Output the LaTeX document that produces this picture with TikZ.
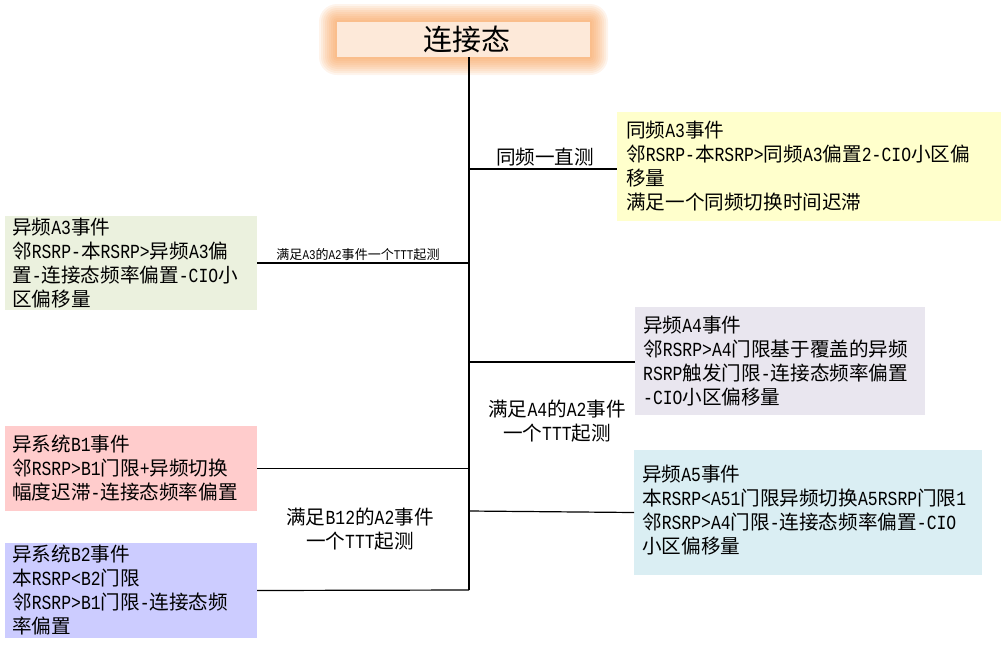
\documentclass[tikz,border=0pt]{standalone}
\usepackage{fontspec}
\setmainfont{Liberation Mono}[FakeStretch=0.82]
\newfontfamily\cjk[Scale=0.98]{Noto Sans CJK SC}
\newXeTeXintercharclass\cjkcls
\count255="4E00
\loop
  \XeTeXcharclass\count255=\cjkcls
  \ifnum\count255<"9FFF \advance\count255 by 1 \repeat
\XeTeXinterchartokenstate=1
\XeTeXinterchartoks 0 \cjkcls = {\cjk}
\XeTeXinterchartoks 4095 \cjkcls = {\cjk}
\XeTeXinterchartoks \cjkcls 0 = {\rmfamily}
\XeTeXinterchartoks \cjkcls 4095 = {\rmfamily}
\definecolor{yelc}{HTML}{FFFFCC}
\definecolor{grnc}{HTML}{EBF1DE}
\definecolor{lavc}{HTML}{E9E6EF}
\definecolor{pnkc}{HTML}{FFCCCC}
\definecolor{bluc}{HTML}{DAEEF3}
\definecolor{perc}{HTML}{CCCCFF}
\definecolor{titlec}{HTML}{FDE9D9}
\definecolor{glowc}{RGB}{247,150,70}
\newcommand\fstrut{\rule{0pt}{18pt}}
\begin{document}
\begin{tikzpicture}[x=1pt,y=-1pt,
  box/.style={rectangle, inner sep=0pt, outer sep=0pt, draw=none},
  txt/.style={anchor=north west, inner sep=0pt, align=left, font=\fontsize{20}{24}\selectfont},
  lbl/.style={inner sep=0pt, align=center, font=\fontsize{20}{24}\selectfont},
  link/.style={draw=black, line width=1.2pt},
  trunk/.style={draw=black, line width=1.5pt}]
\useasboundingbox (0,0) rectangle (1001,646);
% glow of the title
\foreach \i in {2,4,...,18}
  \fill[glowc, opacity=0.1, rounded corners=\i pt] (337-\i,22-\i) rectangle (590+\i,57+\i);
\node[box, fill=titlec, minimum width=253pt, minimum height=35pt,
      font=\fontsize{29.6}{34}\selectfont, text height=24pt, text depth=3pt] (T) at (463.5,39.5) {\hspace*{7pt}连接态};
% boxes
\node[box, fill=yelc, minimum width=384pt, minimum height=109pt] (yel) at (809,166.5) {};
\node[box, fill=grnc, minimum width=252pt, minimum height=94pt] (grn) at (131,263) {};
\node[box, fill=lavc, minimum width=290pt, minimum height=108pt] (lav) at (780,361) {};
\node[box, fill=pnkc, minimum width=252pt, minimum height=85pt] (pnk) at (131,468.5) {};
\node[box, fill=bluc, minimum width=348pt, minimum height=125pt] (blu) at (808,512.5) {};
\node[box, fill=perc, minimum width=252pt, minimum height=95pt] (per) at (131,590.5) {};
% texts
\node[txt] (yelT) at (626,119.3) {\fstrut 同频A3事件\\邻RSRP-本RSRP>同频A3偏置2-CIO小区偏\\移量\\满足一个同频切换时间迟滞};
\node[txt] (grnT) at (12,216) {\fstrut 异频A3事件\\邻RSRP-本RSRP>异频A3偏\\置-连接态频率偏置-CIO小\\区偏移量};
\node[txt] (lavT) at (643,314.3) {\fstrut 异频A4事件\\邻RSRP>A4门限基于覆盖的异频\\RSRP触发门限-连接态频率偏置\\-CIO小区偏移量};
\node[txt] (pnkT) at (12,433.3) {\fstrut 异系统B1事件\\邻RSRP>B1门限+异频切换\\幅度迟滞-连接态频率偏置};
\node[txt] (bluT) at (642,463.3) {\fstrut 异频A5事件\\本RSRP<A51门限异频切换A5RSRP门限1\\邻RSRP>A4门限-连接态频率偏置-CIO\\小区偏移量};
\node[txt] (perT) at (12,543.3) {\fstrut 异系统B2事件\\本RSRP<B2门限\\邻RSRP>B1门限-连接态频\\率偏置};
% trunk and branches
\coordinate (bot) at (469,590);
\coordinate (j1) at (469,169);
\coordinate (j2) at (469,263);
\coordinate (j3) at (469,362);
\coordinate (j4) at (469,468.5);
\coordinate (j5) at (469,511);
\draw[trunk] (T.south -| bot) -- (bot);
\draw[link] (j1) -- (j1 -| yel.west);
\draw[link] (j2) -- (grn.east);
\draw[link] (j3) -- (j3 -| lav.west);
\draw[link] (j4) -- (pnk.east);
\draw[link] (j5) -- (blu.west);
\draw[link] (bot) -- (per.east);
% labels
\node[lbl, anchor=base] (l1) at (545,164.4) {同频一直测};
\node[lbl, anchor=base, font=\fontsize{13.3}{16}\selectfont] (l2) at (358,259) {满足A3的A2事件一个TTT起测};
\node[lbl, anchor=north] (l3) at (557,398.3) {\fstrut 满足A4的A2事件\\一个TTT起测};
\node[lbl, anchor=north] (l4) at (360,506.3) {\fstrut 满足B12的A2事件\\一个TTT起测};
\end{tikzpicture}
\end{document}
